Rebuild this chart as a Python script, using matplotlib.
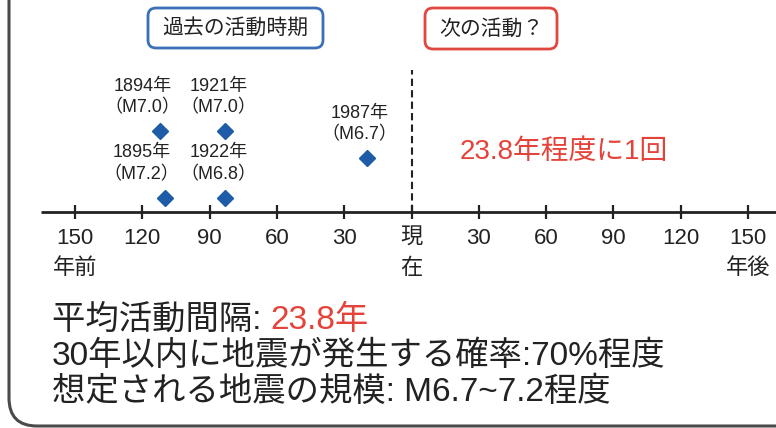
import matplotlib.pyplot as plt
from matplotlib.patches import FancyBboxPatch

plt.rcParams['font.family'] = ['Liberation Sans', 'Noto Sans CJK JP']

# past events: years before present (negative) as placed on the time line
event_years = [1894, 1895, 1921, 1922, 1987]
event_offset = [-112, -110, -83, -83, -20]
event_mag = ['M7.0', 'M7.2', 'M7.0', 'M6.8', 'M6.7']
event_level = [81, 14, 81, 14, 54]

tick_values = [-150, -120, -90, -60, -30, 0, 30, 60, 90, 120, 150]
tick_labels = ['150', '120', '90', '60', '30', '現', '30', '60', '90', '120', '150']
sub_values = [-150, 0, 150]
sub_labels = ['年前', '在', '年後']

mean_interval = 23.8
prob_30yr = 70
mag_range = 'M6.7~7.2'

BLUE = '#1f5ca8'
RED = '#e5423a'
DARK = '#222222'

fig = plt.figure(figsize=(7.76, 4.28), dpi=100)

# frame axes in pixel units (y downwards) for the decorations
frame = fig.add_axes([0, 0, 1, 1])
frame.set_xlim(0, 776)
frame.set_ylim(428, 0)
frame.axis('off')

# time line axes: x in years, y in pixels above the axis line
ax = fig.add_axes([0, 0, 1, 1])
px_per_year = 67.3 / 30
ax.set_xlim(-411.5 / px_per_year, (776 - 411.5) / px_per_year)
ax.set_ylim(-216, 212)
ax.axis('off')

# outer rounded border
frame.add_patch(FancyBboxPatch((9, -60), 850, 486, boxstyle='round,pad=0,rounding_size=28',
                               facecolor='none', edgecolor='#4a4a4a', linewidth=2.2))

# header boxes
frame.add_patch(FancyBboxPatch((148, 8), 175, 40, boxstyle='round,pad=0,rounding_size=8',
                               facecolor='white', edgecolor='#3b6fb6', linewidth=2))
frame.text(235.5, 28, '過去の活動時期', fontsize=15, color=DARK, ha='center', va='center')
frame.add_patch(FancyBboxPatch((425, 8), 132, 41, boxstyle='round,pad=0,rounding_size=8',
                               facecolor='white', edgecolor='#e0473e', linewidth=2))
frame.text(491, 29, '次の活動？', fontsize=15, color=DARK, ha='center', va='center')

# axis line and ticks
ax.plot([-165, 170], [0, 0], color=DARK, linewidth=2, solid_capstyle='butt')
ax.vlines(tick_values, -7, 7, color=DARK, linewidth=1.6)
ax.plot([0, 0], [0, 142], color=DARK, linewidth=1.5, linestyle=(0, (3.5, 2)))

for v, lab in zip(tick_values, tick_labels):
    ax.text(v, -26, lab, fontsize=16, color=DARK, ha='center', va='center')
for v, lab in zip(sub_values, sub_labels):
    ax.text(v, -56, lab, fontsize=16, color=DARK, ha='center', va='center')

# events
ax.plot(event_offset, event_level, linestyle='none', marker='D', markersize=8,
        color=BLUE)
label_dx = [-18, -23, -7, -7, -7]
for x, y, yr, m, dx in zip(event_offset, event_level, event_years, event_mag, label_dx):
    ax.annotate(f'{yr}年', xy=(x, y), xytext=(dx, 45), textcoords='offset pixels',
                fontsize=13, color=DARK, ha='center', va='center')
    ax.annotate(f'（{m}）', xy=(x, y), xytext=(dx, 23), textcoords='offset pixels',
                fontsize=13, color=DARK, ha='center', va='center')

frame.text(564, 152, f'{mean_interval}年程度に1回', fontsize=20, color=RED,
           ha='center', va='center')

# summary text
t1 = frame.text(52, 320, '平均活動間隔: ', fontsize=24, color=DARK, ha='left', va='center')
frame.annotate(f'{mean_interval}年', xy=(1, 0), xycoords=t1, fontsize=24, color=RED,
               ha='left', va='bottom')
frame.text(52, 356, f'30年以内に地震が発生する確率:{prob_30yr}%程度', fontsize=24,
           color=DARK, ha='left', va='center')
frame.text(52, 392, f'想定される地震の規模: {mag_range}程度', fontsize=24,
           color=DARK, ha='left', va='center')

fig.savefig('out.png', dpi=100, facecolor='white')
